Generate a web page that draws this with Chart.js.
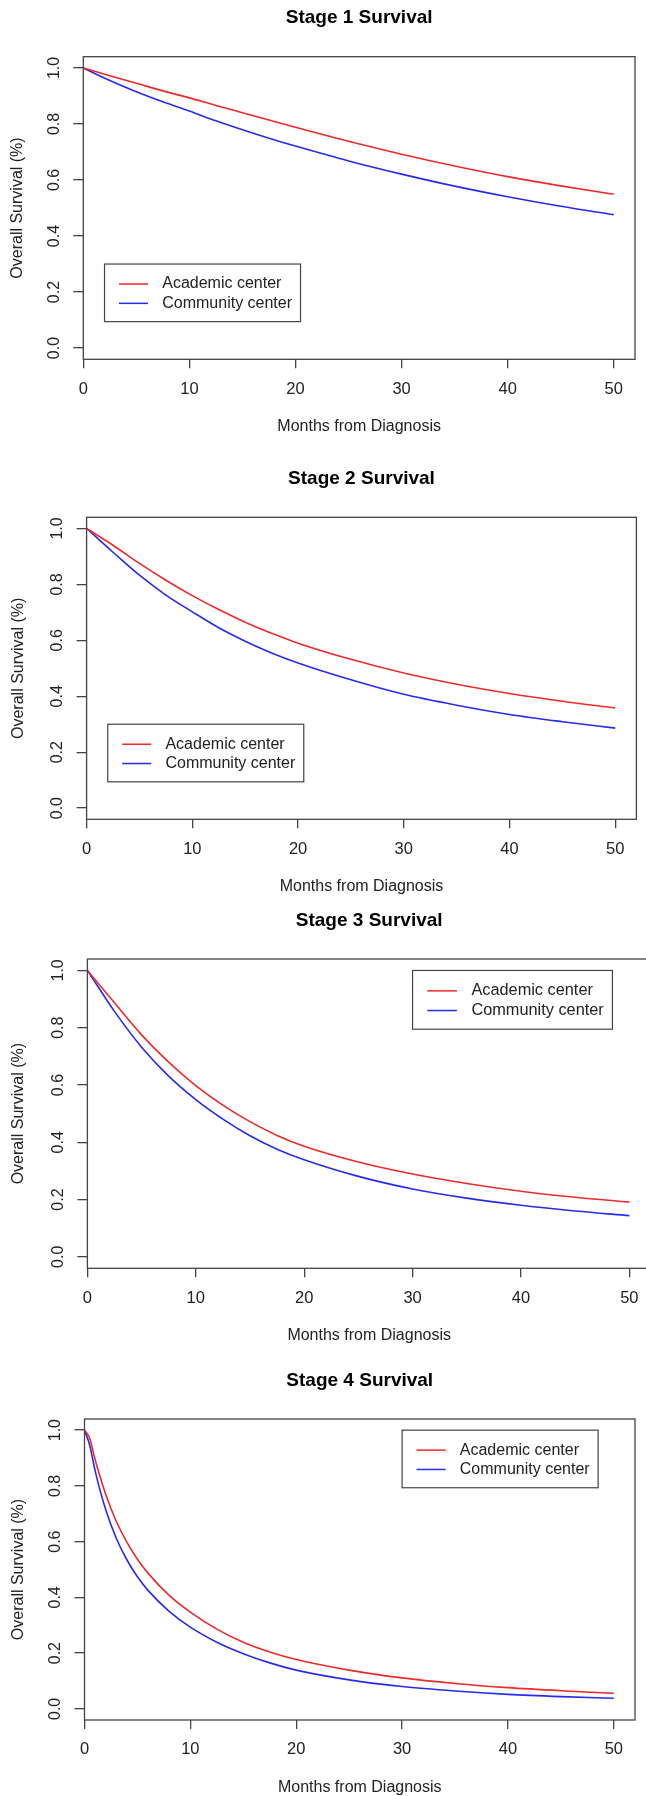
<!DOCTYPE html>
<html>
<head>
<meta charset="utf-8">
<script src="https://cdn.jsdelivr.net/npm/chart.js@4.4.1/dist/chart.umd.min.js"></script>
<style>
html,body{margin:0;padding:0;background:#ffffff;}
body{width:646px;height:1796px;overflow:hidden;position:relative;}
.panel{position:absolute;left:0;width:646px;overflow:hidden;}
canvas{display:block;}
</style>
</head>
<body>
<div class="panel" style="top:0px;height:450px"><canvas id="c1" width="646" height="450"></canvas></div>
<div class="panel" style="top:450px;height:450px"><canvas id="c2" width="646" height="450"></canvas></div>
<div class="panel" style="top:900px;height:450px"><canvas id="c3" width="660" height="450"></canvas></div>
<div class="panel" style="top:1350px;height:446px"><canvas id="c4" width="646" height="446"></canvas></div>
<script>
// ---------- data ----------
const seriesNames = ['Academic center', 'Community center'];
const panelTitles = ['Stage 1 Survival', 'Stage 2 Survival', 'Stage 3 Survival', 'Stage 4 Survival'];
const xAxisTitle = 'Months from Diagnosis';
const yAxisTitle = 'Overall Survival (%)';
const xTickValues = [0, 10, 20, 30, 40, 50];
const xTickLabels = ['0', '10', '20', '30', '40', '50'];
const yTickValues = [0, 0.2, 0.4, 0.6, 0.8, 1.0];
const yTickLabels = ['0.0', '0.2', '0.4', '0.6', '0.8', '1.0'];

const months = [0, 2.5, 5, 7.5, 10, 12.5, 15, 17.5, 20, 25, 30, 35, 40, 45, 50];
const monthsStage4 = [0, 0.5, 1, 2, 3, 4, 5, 6, 8, 10, 12.5, 15, 17.5, 20, 25, 30, 35, 40, 45, 50];

const stage1Academic  = [1.000, 0.972, 0.945, 0.918, 0.893, 0.866, 0.840, 0.814, 0.788, 0.738, 0.692, 0.650, 0.612, 0.579, 0.549];
const stage1Community = [1.000, 0.955, 0.915, 0.879, 0.846, 0.811, 0.779, 0.749, 0.721, 0.668, 0.621, 0.578, 0.540, 0.506, 0.476];

const stage2Academic  = [1.000, 0.940, 0.875, 0.815, 0.760, 0.710, 0.665, 0.625, 0.590, 0.532, 0.483, 0.443, 0.410, 0.382, 0.358];
const stage2Community = [1.000, 0.915, 0.833, 0.762, 0.702, 0.645, 0.597, 0.555, 0.519, 0.459, 0.407, 0.368, 0.335, 0.309, 0.286];

const stage3Academic  = [1.000, 0.887, 0.775, 0.680, 0.598, 0.530, 0.472, 0.424, 0.386, 0.331, 0.289, 0.256, 0.229, 0.208, 0.191];
const stage3Community = [1.000, 0.857, 0.732, 0.631, 0.549, 0.481, 0.423, 0.376, 0.339, 0.281, 0.237, 0.205, 0.180, 0.160, 0.144];

const stage4Academic  = [1.000, 0.970, 0.895, 0.770, 0.673, 0.598, 0.537, 0.487, 0.407, 0.347, 0.286, 0.239, 0.204, 0.177, 0.139, 0.111, 0.091, 0.076, 0.065, 0.056];
const stage4Community = [1.000, 0.945, 0.855, 0.715, 0.612, 0.535, 0.474, 0.425, 0.350, 0.293, 0.239, 0.198, 0.165, 0.139, 0.104, 0.080, 0.064, 0.052, 0.044, 0.038];

// ---------- layout / style ----------
const FONT = '"Liberation Sans", Arial, Helvetica, sans-serif';
const RED = '#ee2a2a';
const BLUE = '#2a2aee';
const AXIS = '#444444';
const X_AXIS_H = 60;   // room below the plot box for x tick labels
const Y_AXIS_W = 55;   // room left of the plot box for y tick labels

// plot box edges inside each canvas (left, top, right, bottom margins)
const panels = [
  {id: 'c1', x: months, a: stage1Academic, c: stage1Community,
   box: {left: 83.3, top: 56.7, right: 11, bottom: 90.7}, legendAt: [2, 0.3], yTitleOff: 66, s: 1},
  {id: 'c2', x: months, a: stage2Academic, c: stage2Community,
   box: {left: 86.6, top: 67.3, right: 9.6, bottom: 80.7}, legendAt: [2, 0.3], yTitleOff: 68, s: 1},
  {id: 'c3', x: months, a: stage3Academic, c: stage3Community,
   box: {left: 87.4, top: 59, right: 9, bottom: 81.7}, legendAt: [30, 1.0], yTitleOff: 69, s: 1.02},
  {id: 'c4', x: monthsStage4, a: stage4Academic, c: stage4Community,
   box: {left: 84.5, top: 69, right: 11, bottom: 76}, legendAt: [30, 1.0], yTitleOff: 66, s: 1}
];

const rFrame = {
  id: 'rFrame',
  afterDraw(chart, args, o) {
    const {ctx, chartArea: a, scales} = chart;
    const s = o.s || 1;
    ctx.save();
    // plot box
    ctx.strokeStyle = AXIS;
    ctx.lineWidth = 1.3;
    ctx.strokeRect(a.left, a.top, a.right - a.left, a.bottom - a.top);
    const cx = (a.left + a.right) / 2;
    // main title
    ctx.fillStyle = '#000';
    ctx.textAlign = 'center';
    ctx.textBaseline = 'middle';
    ctx.font = 'bold 19px ' + FONT;
    ctx.fillText(o.title, cx, a.top - 38.5);
    // x title
    ctx.fillStyle = '#222';
    ctx.font = '16px ' + FONT;
    ctx.fillText(o.xTitle, cx, a.bottom + 67.5);
    // y title
    ctx.save();
    ctx.translate(a.left - o.yTitleOff, (a.top + a.bottom) / 2);
    ctx.rotate(-Math.PI / 2);
    ctx.fillText(o.yTitle, 0, 0);
    ctx.restore();
    // legend (R style, inside the plot)
    const px = scales.x.getPixelForValue(o.legendAt[0]);
    const py = scales.y.getPixelForValue(o.legendAt[1]);
    ctx.font = (16 * s) + 'px ' + FONT;
    let tw = 0;
    chart.data.datasets.forEach(ds => { tw = Math.max(tw, ctx.measureText(ds.label).width); });
    const w = 66.2 * s + tw, h = 57.6 * s;
    ctx.fillStyle = '#fff';
    ctx.fillRect(px, py, w, h);
    ctx.strokeStyle = AXIS;
    ctx.lineWidth = 1.2;
    ctx.strokeRect(px, py, w, h);
    ctx.textAlign = 'left';
    chart.data.datasets.forEach((ds, i) => {
      const y = py + (20 + 19.3 * i) * s;
      ctx.strokeStyle = ds.borderColor;
      ctx.lineWidth = 1.5;
      ctx.beginPath();
      ctx.moveTo(px + 14.4 * s, y);
      ctx.lineTo(px + 43.5 * s, y);
      ctx.stroke();
      ctx.fillStyle = '#222';
      ctx.fillText(ds.label, px + 57.7 * s, y);
    });
    ctx.restore();
  }
};

function pairs(xs, ys) { return xs.map((x, i) => ({x: x, y: ys[i]})); }

panels.forEach((p, k) => {
  const canvas = document.getElementById(p.id);
  new Chart(canvas, {
    type: 'line',
    data: {
      datasets: [
        {label: seriesNames[0], data: pairs(p.x, p.a), borderColor: RED, borderWidth: 1.6,
         pointRadius: 0, fill: false, cubicInterpolationMode: 'monotone'},
        {label: seriesNames[1], data: pairs(p.x, p.c), borderColor: BLUE, borderWidth: 1.6,
         pointRadius: 0, fill: false, cubicInterpolationMode: 'monotone'}
      ]
    },
    options: {
      responsive: false,
      animation: false,
      devicePixelRatio: 1,
      layout: {padding: {left: p.box.left - Y_AXIS_W, top: p.box.top,
                         right: p.box.right, bottom: p.box.bottom - X_AXIS_H}},
      events: [],
      plugins: {
        legend: {display: false},
        title: {display: false},
        tooltip: {enabled: false},
        rFrame: {title: panelTitles[k], xTitle: xAxisTitle, yTitle: yAxisTitle,
                 legendAt: p.legendAt, yTitleOff: p.yTitleOff, s: p.s}
      },
      scales: {
        x: {
          type: 'linear', min: 0, max: 52,
          afterBuildTicks: sc => { sc.ticks = xTickValues.map(v => ({value: v})); },
          afterFit: sc => { sc.height = X_AXIS_H; },
          ticks: {
            autoSkip: false, maxRotation: 0, minRotation: 0, padding: 11,
            color: '#222', font: {family: FONT, size: 16.5},
            callback: (v, i) => xTickLabels[i]
          },
          grid: {display: true, drawOnChartArea: false, drawTicks: true, tickLength: 9,
                 color: AXIS, lineWidth: 1.3},
          border: {display: false}
        },
        y: {
          type: 'linear', min: -0.04, max: 1.04,
          afterBuildTicks: sc => { sc.ticks = yTickValues.map(v => ({value: v})); },
          afterFit: sc => { sc.width = Y_AXIS_W; },
          ticks: {
            autoSkip: false, minRotation: 90, maxRotation: 90, crossAlign: 'center', padding: 7.4,
            color: '#222', font: {family: FONT, size: 16},
            callback: (v, i) => yTickLabels[i]
          },
          grid: {display: true, drawOnChartArea: false, drawTicks: true, tickLength: 10,
                 color: AXIS, lineWidth: 1.3},
          border: {display: false}
        }
      }
    },
    plugins: [rFrame]
  });
});
</script>
</body>
</html>
